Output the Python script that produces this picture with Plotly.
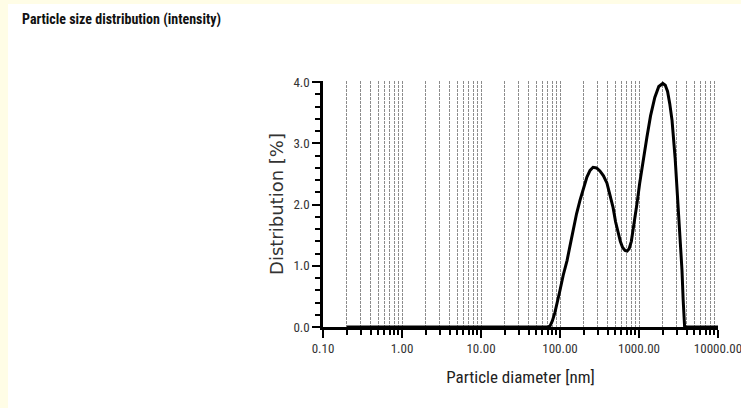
import plotly.graph_objects as go

# ---- data ----
diameter_nm = [0.2, 0.5, 1, 5, 10, 50, 70, 75, 80, 86, 93, 100, 110, 123, 135, 146, 162, 179,
               200, 219, 240, 262, 290, 320, 355, 393, 430, 470, 505, 542, 580, 620, 665,
               707, 750, 800, 870, 944, 1020, 1100, 1180, 1259, 1400, 1585, 1780, 2000,
               2150, 2300, 2450, 2618, 2870, 3120, 3300, 3500, 3620, 3720, 3780, 5000, 10000]
distribution_pct = [0, 0, 0, 0, 0, 0, 0, 0.02, 0.10, 0.23, 0.40, 0.60, 0.85, 1.09, 1.35, 1.58,
                    1.85, 2.07, 2.28, 2.45, 2.56, 2.61, 2.60, 2.55, 2.47, 2.35, 2.15, 1.95,
                    1.72, 1.53, 1.40, 1.30, 1.25, 1.24, 1.28, 1.40, 1.68, 2.02, 2.35, 2.65,
                    2.90, 3.10, 3.45, 3.75, 3.93, 3.98, 3.95, 3.85, 3.65, 3.38, 2.75, 2.02,
                    1.47, 0.93, 0.45, 0.05, 0, 0, 0]

x_tickvals = [0.1, 1, 10, 100, 1000, 10000]
x_ticktext = ["0.10", "1.00", "10.00", "100.00", "1000.00", "10000.00"]
y_tickvals = [0, 1, 2, 3, 4]
y_ticktext = ["0.0", "1.0", "2.0", "3.0", "4.0"]

minor_x = [m * d for d in [0.1, 1, 10, 100, 1000] for m in range(2, 10)]

W, H = 741, 408
ML, MR, MT, MB = 323, 23, 81, 81
PW = W - ML - MR
PH = H - MT - MB

NARROW = "Liberation Sans Narrow, Roboto Condensed, Arial Narrow, sans-serif"

fig = go.Figure()
fig.add_trace(go.Scatter(
    x=diameter_nm, y=distribution_pct, mode="lines",
    line=dict(color="black", width=3, shape="linear"),
    showlegend=False,
))

fig.update_layout(
    width=W, height=H,
    margin=dict(l=ML, r=MR, t=MT, b=MB),
    paper_bgcolor="#FFFDE6",
    plot_bgcolor="rgba(0,0,0,0)",
    title=dict(text="<b>Particle size distribution (intensity)</b>",
               x=22 / W, xanchor="left", y=1 - 19 / H, yanchor="middle",
               font=dict(family=NARROW, size=14, color="#111")),
    shapes=[dict(type="rect", xref="paper", yref="paper", layer="below",
                 x0=(8 - ML) / PW, x1=(W + 5 - ML) / PW,
                 y0=-(MB + 5) / PH, y1=(H - 4 - MT) / PH,
                 fillcolor="white", line=dict(width=0))],
)

fig.update_xaxes(
    type="log", range=[-1, 4], automargin=False,
    tickmode="array", tickvals=x_tickvals, ticktext=x_ticktext,
    ticklabeloverflow="allow",
    ticks="outside", ticklen=8, tickwidth=2, tickcolor="black",
    showline=True, linewidth=2.5, linecolor="black",
    showgrid=True, gridcolor="#8c8c8c", gridwidth=1.3, griddash="3px,1px",
    zeroline=False,
    minor=dict(tickmode="array", tickvals=minor_x, ticks="outside", ticklen=5,
               tickwidth=1.5, tickcolor="black", showgrid=True,
               gridcolor="#8c8c8c", gridwidth=1.3, griddash="3px,1px"),
    tickfont=dict(family=NARROW, size=13, color="#333"),
    title=dict(text="Particle diameter [nm]", standoff=16,
               font=dict(family=NARROW, size=17, color="#222")),
)

fig.update_yaxes(
    range=[0, 4.02], automargin=False,
    tickmode="array", tickvals=y_tickvals, ticktext=y_ticktext,
    ticks="outside", ticklen=8, tickwidth=2, tickcolor="black",
    showline=True, linewidth=2.5, linecolor="black",
    showgrid=False, zeroline=False,
    minor=dict(dtick=0.2, ticks="outside", ticklen=5, tickwidth=1.5, tickcolor="black",
               showgrid=False),
    tickfont=dict(family=NARROW, size=13, color="#333"),
    title=dict(text="Distribution [%]", standoff=6,
               font=dict(family="DejaVu Sans", size=18, color="#333")),
)

fig.write_html("out.html")
